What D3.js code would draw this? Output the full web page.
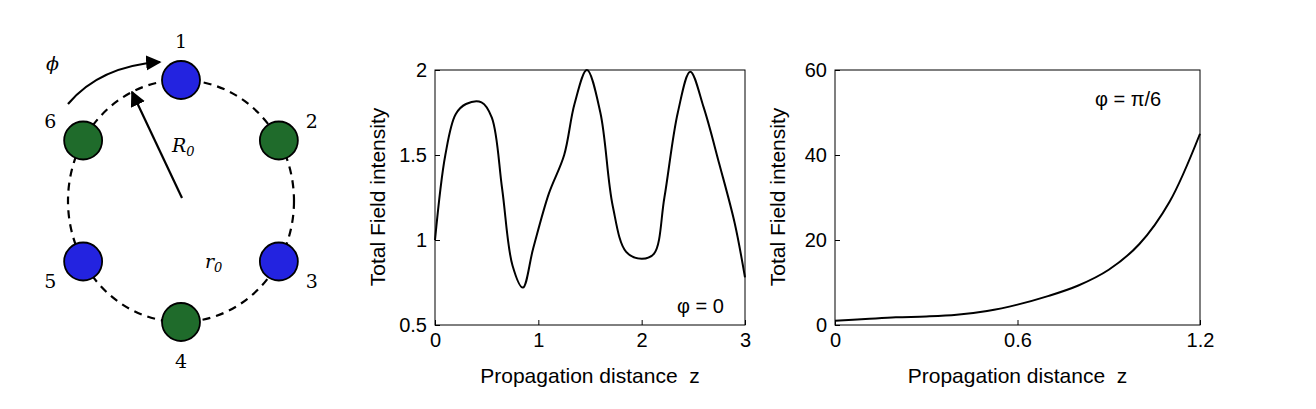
<!DOCTYPE html>
<html><head><meta charset="utf-8">
<script src="https://cdn.jsdelivr.net/npm/d3@7"></script>
<style>body{margin:0;background:#fff}text{font-family:"Liberation Sans",Arial,sans-serif}</style>
</head><body><svg id="c" width="1316" height="409"></svg>
<script>
const nodeLabels = ['1','2','3','4','5','6']
const nodeColors = ['#2323e0','#1f6b2b','#2323e0','#1f6b2b','#2323e0','#1f6b2b']

const zA = [0,0.1,0.2,0.3,0.45,0.55,0.65,0.75,0.85,0.95,1.1,1.25,1.35,1.47,1.6,1.72,1.85,2.0,2.12,2.22,2.35,2.47,2.6,2.75,2.9,3.0]
const iA = [1.0,1.5,1.74,1.8,1.81,1.72,1.3,0.85,0.72,0.95,1.27,1.5,1.8,2.0,1.75,1.2,0.93,0.89,0.92,1.25,1.75,1.99,1.78,1.45,1.1,0.78]
const zB = [0,0.1,0.2,0.3,0.4,0.5,0.6,0.7,0.8,0.9,1.0,1.1,1.2]
const iB = [1,1.4,1.8,2,2.4,3.3,4.8,6.8,9.3,13,19,29,45]

const svg = d3.select('#c')
const ink = '#000'

// ring diagram
const cx = 181, cy = 201, RX = 113, RY = 121
svg.append('ellipse').attr('cx', cx).attr('cy', cy).attr('rx', RX).attr('ry', RY)
  .attr('fill', 'none').attr('stroke', ink).attr('stroke-width', 2.2).attr('stroke-dasharray', '8,6')
nodeLabels.forEach((lab, i) => {
  const a = -Math.PI / 2 + i * Math.PI / 3
  const x = cx + RX * Math.cos(a), y = cy + RY * Math.sin(a)
  svg.append('circle').attr('cx', x).attr('cy', y).attr('r', 19)
    .attr('fill', nodeColors[i]).attr('stroke', ink).attr('stroke-width', 1.8)
  const lx = cx + (RX + 38) * Math.cos(a), ly = cy + (RY + 39) * Math.sin(a)
  svg.append('text').attr('x', lx).attr('y', ly + 7).attr('text-anchor', 'middle')
    .style('font-family', 'DejaVu Serif, serif').style('font-size', '19px').text(lab)
})
svg.append('defs').append('marker').attr('id', 'ah').attr('viewBox', '0 0 10 10')
  .attr('refX', 9).attr('refY', 5).attr('markerWidth', 7).attr('markerHeight', 7).attr('orient', 'auto')
  .append('path').attr('d', 'M0,0L10,5L0,10z')
svg.append('line').attr('x1', 182).attr('y1', 198).attr('x2', 132).attr('y2', 92)
  .attr('stroke', ink).attr('stroke-width', 2.2).attr('marker-end', 'url(#ah)')
svg.append('path').attr('d', 'M68,104 Q100,66 160,62').attr('fill', 'none')
  .attr('stroke', ink).attr('stroke-width', 2.2).attr('marker-end', 'url(#ah)')
const it = (x, y, t, s) => svg.append('text').attr('x', x).attr('y', y).style('font-family', 'DejaVu Serif, serif')
  .style('font-style', 'italic').style('font-size', '19px').text(t).append('tspan').style('font-size', '13px').attr('dy', 4).text(s || '')
it(46, 70, 'ϕ'); it(172, 152, 'R', '0'); it(205, 268, 'r', '0')

function panel(x0, x1, xd, yd, xt, yt, zs, vs, note, nx, ny) {
  const x = d3.scaleLinear().domain(xd).range([x0, x1])
  const y = d3.scaleLinear().domain(yd).range([325, 70])
  const g = svg.append('g')
  g.append('rect').attr('x', x0).attr('y', 70).attr('width', x1 - x0).attr('height', 255)
    .attr('fill', 'none').attr('stroke', ink)
  const ax = g.append('g').attr('transform', 'translate(0,325)').call(d3.axisBottom(x).tickValues(xt).tickSizeInner(-5).tickSizeOuter(0).tickFormat(d3.format('')))
  const ay = g.append('g').attr('transform', `translate(${x0},0)`).call(d3.axisLeft(y).tickValues(yt).tickSizeInner(-5).tickSizeOuter(0).tickFormat(d3.format('')))
  ;[ax, ay].forEach(a => { a.select('.domain').remove(); a.selectAll('text').style('font-size', '20px').attr('fill', ink) })
  ax.selectAll('text').attr('dy', '0.95em')
  ay.selectAll('text').attr('x', -8)
  g.append('path').datum(zs.map((z, i) => [z, vs[i]]))
    .attr('d', d3.line().x(d => x(d[0])).y(d => y(d[1])).curve(d3.curveCatmullRom))
    .attr('fill', 'none').attr('stroke', ink).attr('stroke-width', 2)
  g.append('text').attr('x', (x0 + x1) / 2).attr('y', 383).attr('text-anchor', 'middle').style('font-size', '21px')
    .text('Propagation distance  z').style('white-space', 'pre')
  g.append('text').attr('transform', `translate(${x0 - 50},197) rotate(-90)`).attr('text-anchor', 'middle')
    .style('font-size', '21px').text('Total Field intensity')
  g.append('text').attr('x', nx).attr('y', ny).style('font-size', '20px').text(note)
}
panel(435, 745, [0, 3], [0.5, 2], [0, 1, 2, 3], [0.5, 1, 1.5, 2], zA, iA, 'φ = 0', 677, 313)
panel(835, 1200, [0, 1.2], [0, 60], [0, 0.6, 1.2], [0, 20, 40, 60], zB, iB, 'φ = π/6', 1095, 106)
</script></body></html>
